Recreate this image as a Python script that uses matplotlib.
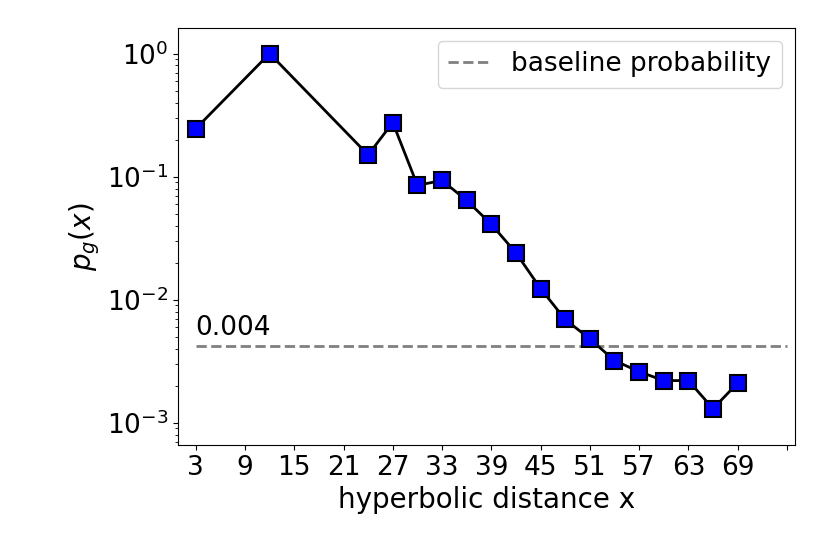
import matplotlib
matplotlib.use("Agg")
import matplotlib.pyplot as plt
import numpy as np

x = [3, 12, 24, 27, 30, 33, 36, 39, 42, 45, 48, 51, 54, 57, 60, 63, 66, 69]
p = [0.245, 1.0, 0.15, 0.275, 0.085, 0.093, 0.064, 0.041, 0.024, 0.0123,
     0.0069, 0.0048, 0.0032, 0.0026, 0.0022, 0.0022, 0.0013, 0.0021]
baseline = 0.0042
xticks = list(range(3, 76, 6))
xticklabels = [str(t) for t in range(3, 70, 6)] + [""]

plt.rcParams['font.size'] = 20
fig, ax = plt.subplots(figsize=(8.3, 5.54), dpi=100)
ax.plot(x, p, '-', color='black', lw=2, marker='s', markersize=11,
        markerfacecolor='blue', markeredgecolor='black', markeredgewidth=1.5, zorder=3)
ax.plot([3, 75], [baseline, baseline], '--', color='gray', lw=2, label='baseline probability')
ax.text(3, baseline * 1.1, '0.004', fontsize=19, va='bottom', ha='left')
ax.set_yscale('log')
ax.set_ylim(10**-3.18, 10**0.21)
ax.set_xlim(0.9, 76)
ax.set_xticks(xticks)
ax.set_xticklabels(xticklabels)
ax.tick_params(labelsize=19)
ax.set_xlabel('hyperbolic distance x', fontsize=20)
ax.set_ylabel(r'$p_g(x)$', fontsize=20)
ax.legend(loc='upper right', fontsize=19, handlelength=1.6)
fig.subplots_adjust(left=0.215, right=0.958, top=0.95, bottom=0.197)
fig.savefig('out.png', dpi=100)
